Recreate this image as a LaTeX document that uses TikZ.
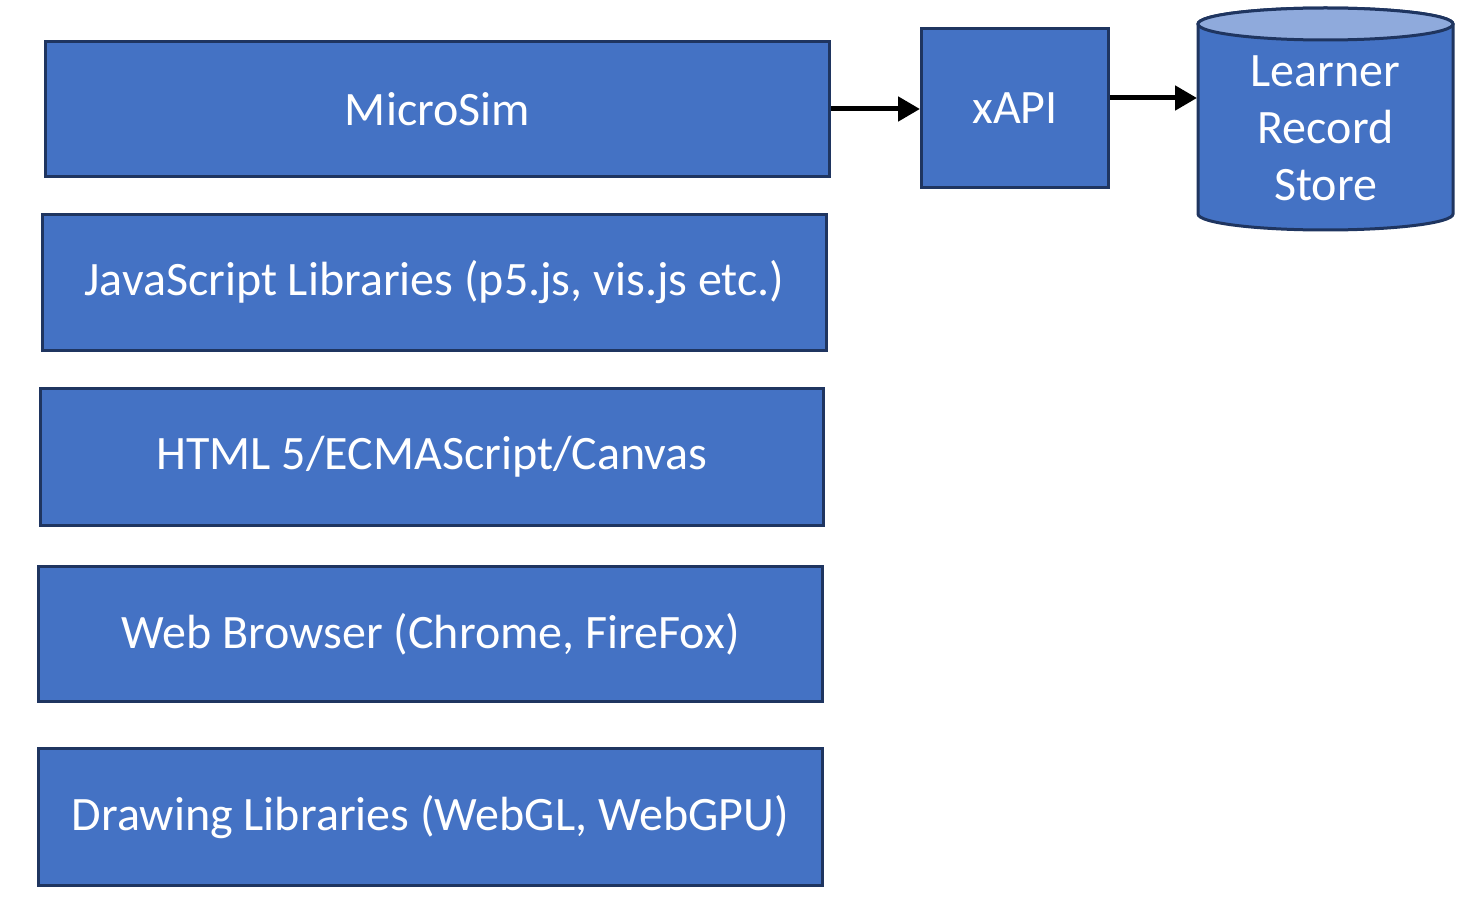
\documentclass[tikz,border=0pt]{standalone}
\usepackage{fontspec}
\setmainfont{Carlito}
\usetikzlibrary{shapes.geometric,arrows.meta}
\definecolor{boxfill}{HTML}{4472C4}
\definecolor{boxline}{HTML}{1F3560}
\definecolor{cyltop}{HTML}{8FAADC}
\begin{document}
\begin{tikzpicture}[x=1pt,y=-1pt,
  layer/.style={draw=boxline,fill=boxfill,line width=3pt,text=white,font=\fontsize{48}{57}\selectfont,inner sep=0pt,anchor=north west},
  conn/.style={line width=5pt,-{Triangle[length=22pt,width=24pt]}}]
\useasboundingbox (0,0) rectangle (1476,912);
\node[layer,minimum width=784pt,minimum height=135pt] (micro) at (44,40) {MicroSim};
\node[layer,minimum width=784pt,minimum height=136pt] (js) at (41,213) {JavaScript Libraries (p5.js, vis.js etc.)};
\node[layer,minimum width=783pt,minimum height=137pt] (html) at (39,387) {HTML 5/ECMAScript/Canvas};
\node[layer,minimum width=784pt,minimum height=135pt] (web) at (37,565) {Web Browser (Chrome, FireFox)};
\node[layer,minimum width=784pt,minimum height=137pt] (draw) at (37,747) {Drawing Libraries (WebGL, WebGPU)};
\node[layer,minimum width=187pt,minimum height=159pt] (xapi) at (920,27) {xAPI};
% cylinder
\draw[boxline,line width=3pt,fill=boxfill] (1198,24) -- (1198,214) arc[start angle=180,end angle=0,x radius=127.5,y radius=16] -- (1453,24) arc[start angle=0,end angle=-180,x radius=127.5,y radius=16] -- cycle;
\draw[boxline,line width=3pt,fill=cyltop] (1325.5,24) ellipse[x radius=127.5,y radius=16];
\node[text=white,font=\fontsize{48}{57}\selectfont,align=center] (lrs) at (1325.5,128) {Learner\\Record\\Store};
\coordinate (lrsin) at (1197,98);
\draw[conn] (micro.east) -- (xapi.west |- micro.east);
\draw[conn] (xapi.east |- lrsin) -- (lrsin);
\end{tikzpicture}
\end{document}
